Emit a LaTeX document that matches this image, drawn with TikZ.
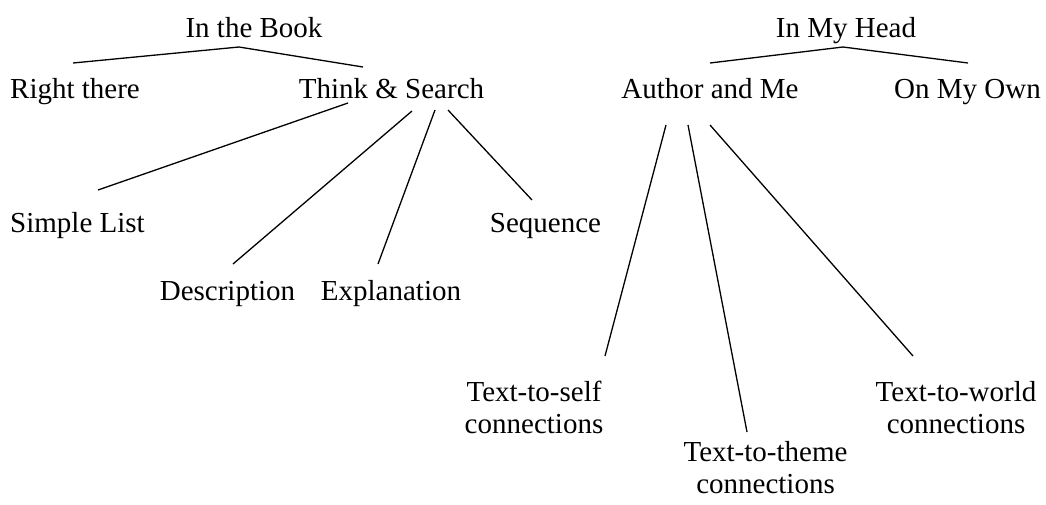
\documentclass[tikz,border=0pt]{standalone}
\usepackage{fontspec}
\setmainfont{Liberation Serif}
\usetikzlibrary{positioning}
\tikzstyle{lbl} = [anchor=base, inner sep=0pt, font=\fontsize{29}{31.5}\selectfont]
\tikzstyle{twoline} = [lbl, align=center]
\tikzstyle{link} = [line width=1.3pt]

\begin{document}
\begin{tikzpicture}[x=1pt, y=1pt]
\useasboundingbox (0,0) rectangle (1046,-504);

% In the Book
\node[lbl] (book) at (254,-37) {In the Book};
\node[lbl] (right) at (75,-98) {Right there};
\node[lbl] (think) at (391.5,-98) {Think \& Search};
\node[lbl] (simple) at (77.5,-232) {Simple List};
\node[lbl] (seq) at (545.5,-232) {Sequence};
\node[lbl] (desc) at (227.5,-300) {Description};
\node[lbl] (expl) at (391,-300) {Explanation};

% In My Head
\node[lbl] (head) at (846,-37) {In My Head};
\node[lbl] (author) at (710,-98) {Author and Me};
\node[lbl] (own) at (967.5,-98) {On My Own};
\node[twoline] (self) at (534,-433) {Text-to-self\\connections};
\node[twoline] (theme) at (765.5,-493) {Text-to-theme\\connections};
\node[twoline] (world) at (956,-433) {Text-to-world\\connections};

% Branches
\draw[link] ([xshift=-2pt,yshift=35pt]right.base) -- ([xshift=-15pt,yshift=-10pt]book.base)
  -- ([xshift=-28.5pt,yshift=31pt]think.base);
\draw[link] ([xshift=-43.5pt,yshift=-5pt]think.base) -- ([xshift=20.5pt,yshift=42pt]simple.base);
\draw[link] ([xshift=20.5pt,yshift=-13pt]think.base) -- ([xshift=5.5pt,yshift=36pt]desc.base);
\draw[link] ([xshift=43.5pt,yshift=-12pt]think.base) -- ([xshift=-13pt,yshift=36pt]expl.base);
\draw[link] ([xshift=56.5pt,yshift=-12pt]think.base) -- ([xshift=-13.5pt,yshift=32pt]seq.base);

\draw[link] ([yshift=35pt]author.base) -- ([xshift=-3pt,yshift=-10pt]head.base)
  -- ([xshift=0.5pt,yshift=35pt]own.base);
\draw[link] ([xshift=-44pt,yshift=-27pt]author.base) -- ([xshift=71pt,yshift=77pt]self.base);
\draw[link] ([xshift=-22pt,yshift=-27pt]author.base) -- ([xshift=-18.5pt,yshift=61pt]theme.base);
\draw[link] ([yshift=-27pt]author.base) -- ([xshift=-43pt,yshift=77pt]world.base);
\end{tikzpicture}
\end{document}
